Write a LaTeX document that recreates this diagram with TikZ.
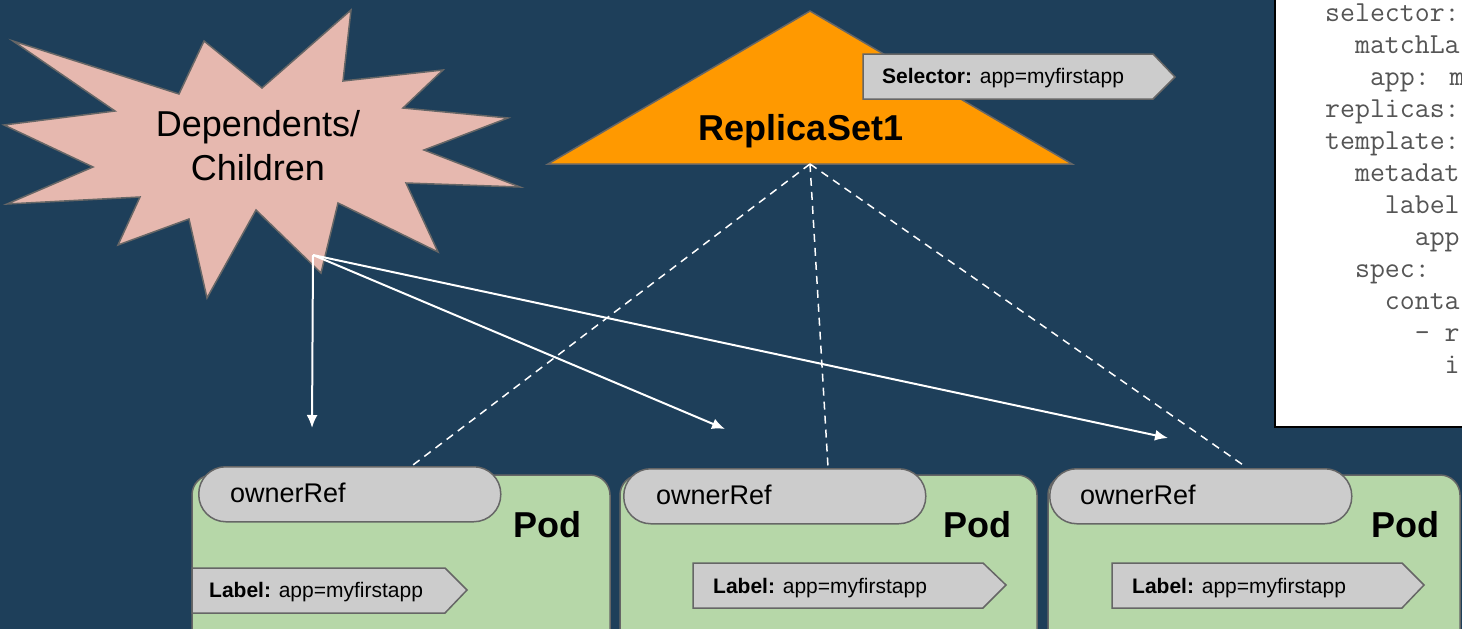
\documentclass[tikz,border=0pt]{standalone}
\usepackage{fontspec}
\setmainfont{Liberation Sans}
\usetikzlibrary{arrows.meta}
\definecolor{bg}{HTML}{1E3F5A}
\definecolor{burst}{HTML}{E6B8AF}
\definecolor{rsorange}{HTML}{FF9900}
\definecolor{tagfill}{HTML}{CCCCCC}
\definecolor{podfill}{HTML}{B6D7A8}
\definecolor{edgegray}{HTML}{666666}
\definecolor{codegray}{HTML}{555555}

\begin{document}
\begin{tikzpicture}[x=1pt,y=-1pt,
  outline/.style={draw=edgegray,line width=1.5pt},
  podbox/.style={outline,fill=podfill,rounded corners=20pt},
  ownerbox/.style={outline,fill=tagfill,rounded corners=27pt,
    minimum width=302pt,minimum height=55pt,anchor=north west,inner sep=0pt},
  tagshape/.style={outline,fill=tagfill},
  plain/.style={inner sep=0pt,anchor=base west},
  tagtext/.style={plain,font=\fontsize{21}{25}\selectfont},
  ownertext/.style={plain,font=\fontsize{27}{32}\selectfont},
  podtext/.style={inner sep=0pt,anchor=base east,font=\fontsize{36}{42}\selectfont\bfseries},
  codetext/.style={plain,text=codegray,font=\fontsize{29}{32}\ttfamily},
  ownerlink/.style={draw=white,line width=1.5pt,dash pattern=on 8pt off 6pt},
  deplink/.style={draw=white,line width=2pt,-{Latex[length=13pt,width=11pt]}}
]
\useasboundingbox (0,0) rectangle (1462,629);
\clip (0,0) rectangle (1462,629);
\fill[bg] (0,0) rectangle (1462,629);

% dependents starburst
\draw[outline,fill=burst]
  (13,41) -- (179,94) -- (204,41) -- (262,88) -- (351,10) -- (343,81)
  -- (443,70) -- (403,108) -- (508,118) -- (424,150) -- (520,187)
  -- (406,183) -- (438,252) -- (338,203) -- (321,273) -- (256,210)
  -- (207,298) -- (189,219) -- (118,245) -- (140,197) -- (7,204)
  -- (93,167) -- (4,125) -- (115,111) -- cycle;
\node[inner sep=0pt,align=center,font=\fontsize{36}{44}\selectfont]
  (dep) at (258,146) {Dependents/\\Children};

% ReplicaSet triangle
\draw[outline,fill=rsorange] (810,11) -- (1072,164) -- (548,164) -- cycle;
\node[inner sep=0pt,anchor=base,font=\fontsize{36}{42}\selectfont\bfseries]
  (rs) at (801,140) {ReplicaSet1};
\coordinate (rsbase) at (810,164);

% selector tag
\draw[tagshape] (863,54) -- (1153,54) -- (1175,77) -- (1153,99) -- (863,99) -- cycle;
\node[tagtext] (sel) at (882,83) {\textbf{Selector:} app=myfirstapp};

% ownership arrows from the dependents
\coordinate (depsrc) at (313,255);
\coordinate (t1) at (312,428);
\coordinate (t2) at (725,429);
\coordinate (t3) at (1168,438);
\draw[deplink] (depsrc) -- (t1);
\draw[deplink] (depsrc) -- (t2);
\draw[deplink] (depsrc) -- (t3);

% selector links down to the pods
\coordinate (o1) at (413,465);
\coordinate (o2) at (828,467);
\coordinate (o3) at (1246,467);
\draw[ownerlink] (rsbase) -- (o1);
\draw[ownerlink] (rsbase) -- (o2);
\draw[ownerlink] (rsbase) -- (o3);

% pods
\draw[podbox] (192,475) rectangle (610,680);
\draw[podbox] (620,475) rectangle (1037,680);
\draw[podbox] (1048,475) rectangle (1460,680);

\node[ownerbox] (own1) at (198,466) {};
\node[ownerbox] (own2) at (623,468) {};
\node[ownerbox] (own3) at (1049,468) {};
\node[ownertext] (ownt1) at (230,502) {ownerRef};
\node[ownertext] (ownt2) at (656,504) {ownerRef};
\node[ownertext] (ownt3) at (1080,504) {ownerRef};

\node[podtext] (pod1) at (582,537) {Pod};
\node[podtext] (pod2) at (1012,537) {Pod};
\node[podtext] (pod3) at (1440,537) {Pod};

\draw[tagshape] (192,568) -- (445,568) -- (467,590) -- (445,613) -- (192,613) -- cycle;
\draw[tagshape] (693,563) -- (983,563) -- (1006,585) -- (983,608) -- (693,608) -- cycle;
\draw[tagshape] (1112,563) -- (1402,563) -- (1424,585) -- (1402,608) -- (1112,608) -- cycle;
\node[tagtext] (lab1) at (209,597) {\textbf{Label:} app=myfirstapp};
\node[tagtext] (lab2) at (713,593) {\textbf{Label:} app=myfirstapp};
\node[tagtext] (lab3) at (1132,593) {\textbf{Label:} app=myfirstapp};

% ReplicaSet manifest excerpt
\draw[fill=white,draw=black,line width=2.5pt] (1275,-10) rectangle (1480,427);
\node[codetext] (c0) at (1325,21) {selector:};
\node[codetext] (c1) at (1325,53) {\ \ matchLa};
\node[codetext] (c2) at (1325,85) {\ \ \ app: m};
\node[codetext] (c3) at (1325,117) {replicas:};
\node[codetext] (c4) at (1325,149) {template:};
\node[codetext] (c5) at (1325,181) {\ \ metadat};
\node[codetext] (c6) at (1325,213) {\ \ \ \ label};
\node[codetext] (c7) at (1325,245) {\ \ \ \ \ \ app};
\node[codetext] (c8) at (1325,277) {\ \ spec:};
\node[codetext] (c9) at (1325,309) {\ \ \ \ conta};
\node[codetext] (c10) at (1325,341) {\ \ \ \ \ \ - r};
\node[codetext] (c11) at (1325,373) {\ \ \ \ \ \ \ \ i};
\end{tikzpicture}
\end{document}
